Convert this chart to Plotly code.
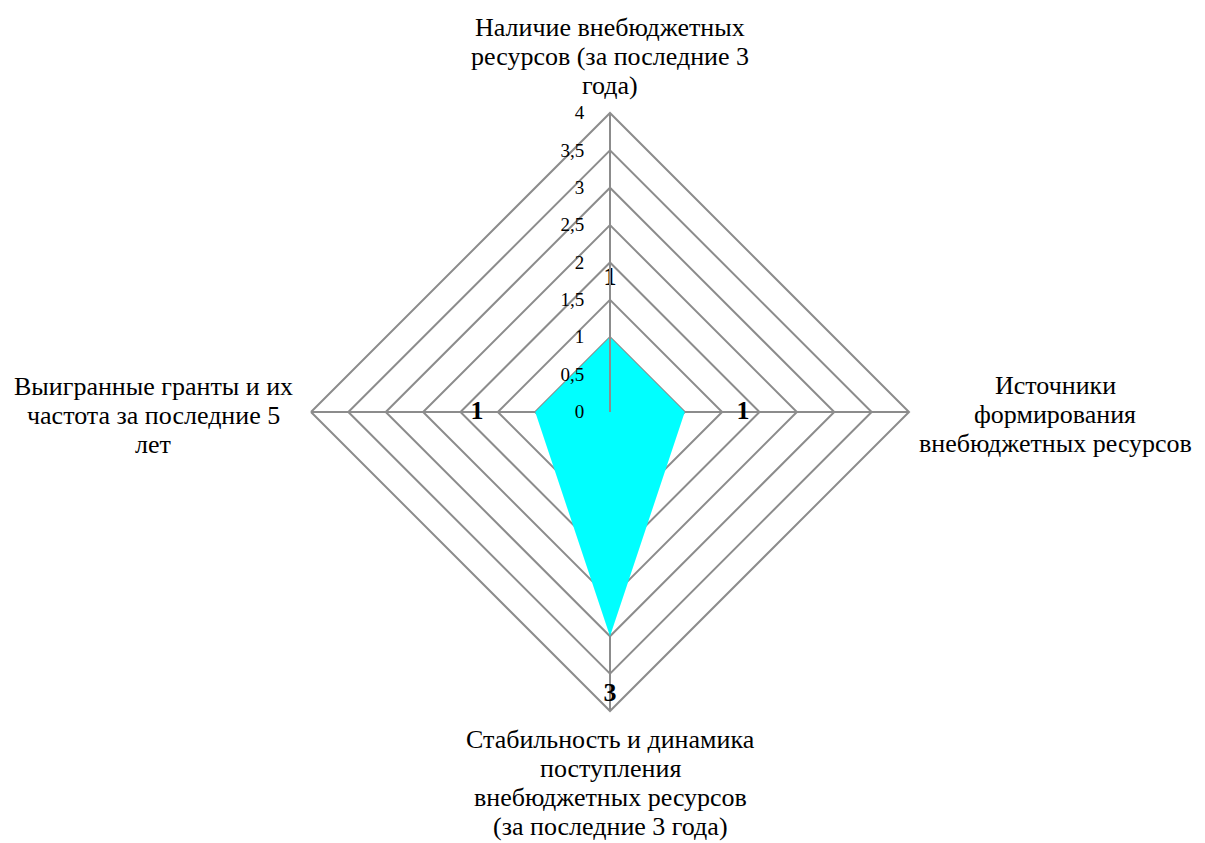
import plotly.graph_objects as go

categories = [
    "Наличие внебюджетных ресурсов (за последние 3 года)",
    "Источники формирования внебюджетных ресурсов",
    "Стабильность и динамика поступления внебюджетных ресурсов (за последние 3 года)",
    "Выигранные гранты и их частота за последние 5 лет",
]
category_lines = [
    ["Наличие внебюджетных", "ресурсов (за последние 3", "года)"],
    ["Источники", "формирования", "внебюджетных ресурсов"],
    ["Стабильность и динамика", "поступления", "внебюджетных ресурсов", "(за последние 3 года)"],
    ["Выигранные гранты и их", "частота за последние 5", "лет"],
]
values = [1, 1, 3, 1]
tick_vals = [0, 0.5, 1, 1.5, 2, 2.5, 3, 3.5, 4]
tick_text = ["0", "0,5", "1", "1,5", "2", "2,5", "3", "3,5", "4"]

label_offset = 0.78
font_family = "Liberation Serif"
W, H = 1205, 843
PAD = 8  # page body margin
LINE_GAP = 29

def px(x):
    return (x - PAD) / W

def py(y):
    return 1 - (y - PAD) / H

fig = go.Figure()
fig.add_trace(go.Scatterpolar(
    r=values + [values[0]],
    theta=categories + [categories[0]],
    mode="lines",
    fill="toself",
    fillcolor="#00FFFF",
    line=dict(color="#00FFFF", width=0),
    hoverinfo="skip",
    showlegend=False,
))
fig.add_trace(go.Scatterpolar(
    r=[v + label_offset for v in values],
    theta=categories,
    mode="text",
    text=[f"<b>{v}</b>" for v in values],
    textfont=dict(family=font_family, size=26, color="black"),
    textposition="middle center",
    showlegend=False,
))

# category label placement: centre x, first-line centre y (pixels)
label_pos = [(610, 27), (1055, 385), (610, 739), (153, 386)]
annotations = []
for lines, (x, y0) in zip(category_lines, label_pos):
    for i, line in enumerate(lines):
        annotations.append(dict(
            text=line, x=px(x), y=py(y0 + i * LINE_GAP), xref="paper", yref="paper",
            xanchor="center", yanchor="middle", align="center", showarrow=False,
            font=dict(family=font_family, size=26, color="black"),
        ))

fig.update_layout(
    width=W, height=H,
    margin=dict(l=0, r=0, t=0, b=0),
    paper_bgcolor="white",
    plot_bgcolor="white",
    separators=", ",
    font=dict(family=font_family, color="black"),
    annotations=annotations,
    polar=dict(
        domain=dict(x=[px(311), px(909)], y=[py(711), py(113)]),
        gridshape="linear",
        bgcolor="white",
        radialaxis=dict(
            range=[0, 4],
            tickvals=tick_vals,
            ticktext=tick_text,
            angle=90,
            tickangle=90,
            side="counterclockwise",
            showline=True,
            linecolor="#8c8c8c",
            linewidth=2,
            gridcolor="#8c8c8c",
            gridwidth=2,
            ticks="outside",
            ticklen=18,
            tickcolor="rgba(0,0,0,0)",
            tickfont=dict(family=font_family, size=19, color="black"),
        ),
        angularaxis=dict(
            direction="clockwise",
            rotation=90,
            showline=True,
            linecolor="#8c8c8c",
            linewidth=2,
            gridcolor="#8c8c8c",
            gridwidth=2,
            ticks="",
            showticklabels=False,
        ),
    ),
)

fig.write_html("out.html")
